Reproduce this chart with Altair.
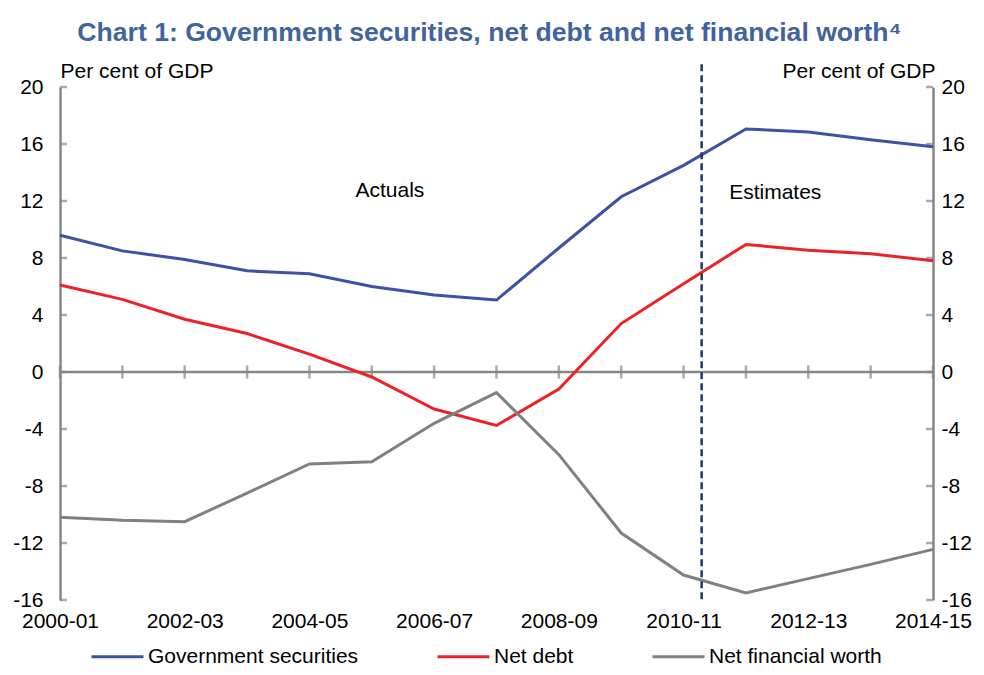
import altair as alt
import pandas as pd

years = ["2000-01", "2001-02", "2002-03", "2003-04", "2004-05", "2005-06", "2006-07",
         "2007-08", "2008-09", "2009-10", "2010-11", "2011-12", "2012-13", "2013-14", "2014-15"]
gov_securities = [9.6, 8.5, 7.9, 7.1, 6.9, 6.0, 5.4, 5.05, 8.7, 12.3, 14.5, 17.05, 16.85, 16.3, 15.8]
net_debt = [6.1, 5.1, 3.7, 2.7, 1.25, -0.35, -2.6, -3.75, -1.2, 3.4, 6.2, 8.95, 8.55, 8.3, 7.8]
net_financial_worth = [-10.2, -10.4, -10.5, -8.5, -6.45, -6.3, -3.6, -1.45, -5.8, -11.3,
                       -14.25, -15.5, -14.5, -13.5, -12.45]
series_names = ["Government securities", "Net debt", "Net financial worth"]
series_colors = ["#3A53A4", "#ED2227", "#808080"]
y_ticks = [-16, -12, -8, -4, 0, 4, 8, 12, 16, 20]
x_label_idx = [0, 2, 4, 6, 8, 10, 12, 14]
divider_x = [10.29]
divider_y = [21.6]
divider_y2 = [-16]
notes = ["Actuals", "Estimates"]
notes_x = [5.29, 11.47]
notes_y = [12.7, 12.55]

FONT = "Liberation Sans"
GREY = "#878787"
FS = 21

rows = []
for name, vals in zip(series_names, [gov_securities, net_debt, net_financial_worth]):
    for i, v in enumerate(vals):
        rows.append({"idx": i, "year": years[i], "series": name, "value": v})
df = pd.DataFrame(rows)
idx_df = pd.DataFrame({"idx": list(range(len(years))), "zero": [0] * len(years)})
yt_df = pd.DataFrame({"y": y_ticks, "left": [0] * len(y_ticks), "right": [len(years) - 1] * len(y_ticks)})
div_df = pd.DataFrame({"x": divider_x, "y": divider_y, "y2": divider_y2})
note_df = pd.DataFrame({"text": notes, "x": notes_x, "y": notes_y})
zero_df = pd.DataFrame({"x": [0], "x2": [len(years) - 1], "y": [0]})

label_arr = "[" + ",".join("'%s'" % y for y in years) + "]"
y_label_expr = "datum.value < 0 ? '-' + abs(datum.value) : '' + datum.value"
xs = alt.Scale(domain=[0, len(years) - 1], nice=False, zero=False)
ys = alt.Scale(domain=[-16, 20], nice=False, zero=False)

x_axis = alt.Axis(values=x_label_idx, labelExpr=label_arr + "[datum.value]", ticks=False,
                  domain=False, grid=False, labelFontSize=FS, labelFont=FONT, labelColor="black",
                  labelPadding=10, labelFlush=False, labelOverlap=False, title=None)

left_axis = alt.Axis(orient="left", values=y_ticks, labelExpr=y_label_expr, ticks=False, grid=False,
                     domain=True, domainColor=GREY, domainWidth=2.5, labelFontSize=FS, labelFont=FONT,
                     labelColor="black", labelPadding=17, title="Per cent of GDP", titleAngle=0,
                     titleAlign="left", titleBaseline="alphabetic", titleX=0, titleY=-10,
                     titleFont=FONT, titleFontSize=FS, titleFontWeight="normal", titleColor="black")
right_axis = alt.Axis(orient="right", values=y_ticks, labelExpr=y_label_expr, ticks=False, grid=False,
                      domain=True, domainColor=GREY, domainWidth=2.5, labelFontSize=FS, labelFont=FONT,
                      labelColor="black", labelPadding=8, title="Per cent of GDP", titleAngle=0,
                      titleAlign="right", titleBaseline="alphabetic", titleX=2, titleY=-10,
                      titleFont=FONT, titleFontSize=FS, titleFontWeight="normal", titleColor="black")

zero_rule = alt.Chart(zero_df).mark_rule(color=GREY, strokeWidth=2.5).encode(
    x=alt.X("x:Q", scale=xs, axis=x_axis), x2="x2:Q",
    y=alt.Y("y:Q", scale=ys, axis=None))

zero_ticks = alt.Chart(idx_df).mark_tick(orient="vertical", color=GREY, size=13, thickness=2.5).encode(
    x=alt.X("idx:Q", scale=xs, axis=None), y=alt.Y("zero:Q", scale=ys, axis=None))

left_ticks = alt.Chart(yt_df).mark_tick(orient="horizontal", color=GREY, size=7, thickness=2.5,
                                        xOffset=3.5).encode(
    x=alt.X("left:Q", scale=xs, axis=None), y=alt.Y("y:Q", scale=ys, axis=left_axis))

right_ticks = alt.Chart(yt_df).mark_tick(orient="horizontal", color=GREY, size=7, thickness=2.5,
                                         xOffset=-3.5).encode(
    x=alt.X("right:Q", scale=xs, axis=None), y=alt.Y("y:Q", scale=ys, axis=right_axis))

lines = alt.Chart(df).mark_line(strokeWidth=3).encode(
    x=alt.X("idx:Q", scale=xs, axis=None),
    y=alt.Y("value:Q", scale=ys, axis=None),
    color=alt.Color("series:N", scale=alt.Scale(domain=series_names, range=series_colors),
                    sort=series_names,
                    legend=alt.Legend(orient="none", legendX=30, legendY=542, direction="horizontal",
                                      title=None, symbolType="stroke", symbolSize=2704,
                                      symbolStrokeWidth=3, labelFontSize=FS, labelFont=FONT,
                                      labelColor="black", columnPadding=72, labelOffset=3,
                                      labelLimit=400)),
    order="idx:Q")

divider = alt.Chart(div_df).mark_rule(color="#1F3864", strokeWidth=2.5, strokeDash=[7, 4]).encode(
    x=alt.X("x:Q", scale=xs, axis=None), y=alt.Y("y:Q", scale=ys, axis=None), y2="y2:Q")

note_text = alt.Chart(note_df).mark_text(font=FONT, fontSize=FS, color="black").encode(
    x=alt.X("x:Q", scale=xs, axis=None), y=alt.Y("y:Q", scale=ys, axis=None), text="text:N")

chart = alt.layer(zero_rule, zero_ticks, left_ticks, right_ticks, lines, divider, note_text).resolve_axis(
    y="independent", x="independent"
).properties(
    width=873, height=513, autosize="none",
    padding={"left": 52, "top": 79, "right": 43, "bottom": 67},
    title=alt.TitleParams("Chart 1: Government securities, net debt and net financial worth⁴",
                          font=FONT, fontSize=26.6, fontWeight="bold", color="#41639E",
                          anchor="middle", frame="group", baseline="alphabetic", offset=21,
                          dx=-7, dy=29)
).configure_view(strokeWidth=0)

chart.save("out.html", embed_options={"renderer": "svg", "actions": False})
